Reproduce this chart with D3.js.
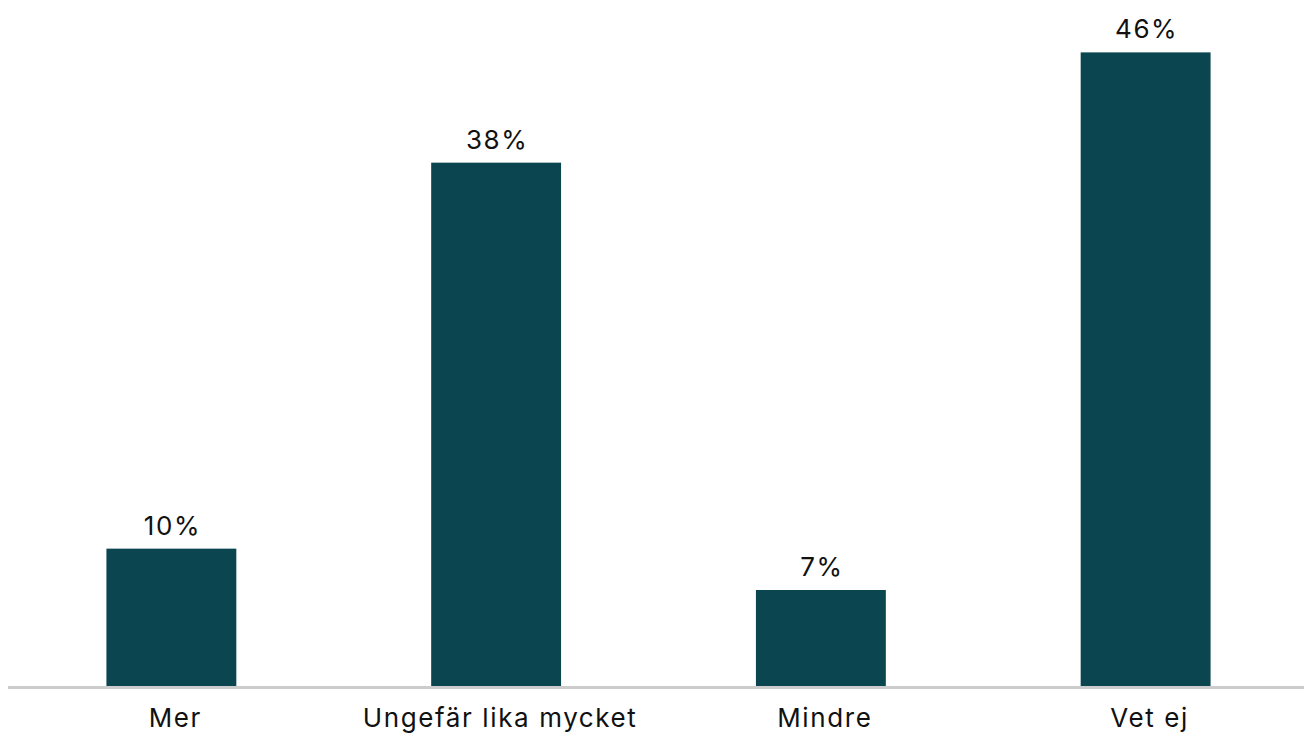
<!DOCTYPE html>
<html>
<head>
<meta charset="utf-8">
<script src="https://cdn.jsdelivr.net/npm/d3@7"></script>
<style>
  html, body { margin: 0; padding: 0; background: #ffffff; }
  svg { display: block; }
  text { font-family: Inter, "Open Sans", sans-serif; fill: #111111; letter-spacing: 1.6px; }
</style>
</head>
<body>
<svg id="chart" width="1304" height="733"></svg>
<script>
// Survey answers and their shares (%)
const categories = ["Mer", "Ungefär lika mycket", "Mindre", "Vet ej"];
const values = [10, 38, 7, 46];
const valueLabels = ["10%", "38%", "7%", "46%"];

const width = 1304, height = 733;
const margin = { top: 0, right: -4, bottom: 47, left: 9 };
const axisLeft = 8;
const baseY = height - margin.bottom + 0.5;

const svg = d3.select("#chart");

const x = d3.scaleBand()
  .domain(categories)
  .range([margin.left, width - margin.right])
  .paddingInner(0.6)
  .paddingOuter(0.3);

const y = d3.scaleLinear()
  .domain([0, 49.8])
  .range([baseY, 0]);

const data = categories.map((c, i) => ({ cat: c, value: values[i], label: valueLabels[i] }));

// Bars
svg.append("g")
  .selectAll("rect")
  .data(data)
  .join("rect")
  .attr("x", d => x(d.cat))
  .attr("y", d => y(d.value))
  .attr("width", x.bandwidth())
  .attr("height", d => baseY - y(d.value))
  .attr("fill", "#0b4550");

// Value labels above bars
svg.append("g")
  .selectAll("text")
  .data(data)
  .join("text")
  .attr("x", d => x(d.cat) + x.bandwidth() / 2 + 1)
  .attr("y", d => y(d.value) - 14)
  .attr("text-anchor", "middle")
  .attr("font-size", 26)
  .text(d => d.label);

// Category axis
const axis = svg.append("g")
  .attr("transform", `translate(0,${baseY})`)
  .call(d3.axisBottom(x).tickSize(0).tickPadding(0));
axis.select(".domain")
  .attr("stroke", "#cccccc")
  .attr("stroke-width", 3)
  .attr("d", `M${axisLeft},1H${width}`);
axis.selectAll(".tick text")
  .attr("font-size", 26)
  .attr("font-family", "Inter, 'Open Sans', sans-serif")
  .attr("fill", "#111111")
  .attr("dx", 4)
  .attr("dy", 0)
  .attr("y", 40);
</script>
</body>
</html>
